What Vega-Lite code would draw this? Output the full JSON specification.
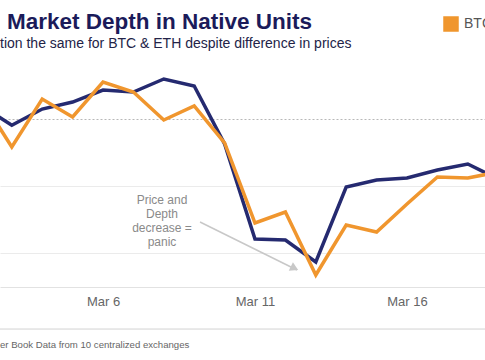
{
  "$schema": "https://vega.github.io/schema/vega-lite/v6.json",
  "width": 485,
  "height": 235,
  "autosize": {"type": "none"},
  "padding": {"left": 0, "top": 52, "right": 0, "bottom": 73},
  "background": "white",
  "config": {
    "view": {"stroke": null},
    "font": "Liberation Sans"
  },
  "title": {
    "text": "Market Depth in Native Units",
    "anchor": "start",
    "frame": "group",
    "font": "Liberation Sans",
    "fontSize": 22.5,
    "fontWeight": "bold",
    "color": "#1b1b5a",
    "offset": 4,
    "dx": 7,
    "dy": 21
  },
  "datasets": {
    "series": [
      {"date": "2020-03-02T00:00:00", "asset": "ETH", "depth": 32.0},
      {"date": "2020-03-03T00:00:00", "asset": "ETH", "depth": 29.1},
      {"date": "2020-03-04T00:00:00", "asset": "ETH", "depth": 31.5},
      {"date": "2020-03-05T00:00:00", "asset": "ETH", "depth": 32.55},
      {"date": "2020-03-06T00:00:00", "asset": "ETH", "depth": 34.34},
      {"date": "2020-03-07T00:00:00", "asset": "ETH", "depth": 34.04},
      {"date": "2020-03-08T00:00:00", "asset": "ETH", "depth": 35.98},
      {"date": "2020-03-09T00:00:00", "asset": "ETH", "depth": 34.94},
      {"date": "2020-03-10T00:00:00", "asset": "ETH", "depth": 26.3},
      {"date": "2020-03-11T00:00:00", "asset": "ETH", "depth": 12.15},
      {"date": "2020-03-12T00:00:00", "asset": "ETH", "depth": 12.0},
      {"date": "2020-03-13T00:00:00", "asset": "ETH", "depth": 8.72},
      {"date": "2020-03-14T00:00:00", "asset": "ETH", "depth": 19.89},
      {"date": "2020-03-15T00:00:00", "asset": "ETH", "depth": 20.94},
      {"date": "2020-03-16T00:00:00", "asset": "ETH", "depth": 21.23},
      {"date": "2020-03-17T00:00:00", "asset": "ETH", "depth": 22.43},
      {"date": "2020-03-18T00:00:00", "asset": "ETH", "depth": 23.32},
      {"date": "2020-03-19T00:00:00", "asset": "ETH", "depth": 21.09},
      {"date": "2020-03-02T00:00:00", "asset": "BTC", "depth": 33.0},
      {"date": "2020-03-03T00:00:00", "asset": "BTC", "depth": 25.85},
      {"date": "2020-03-04T00:00:00", "asset": "BTC", "depth": 33.0},
      {"date": "2020-03-05T00:00:00", "asset": "BTC", "depth": 30.32},
      {"date": "2020-03-06T00:00:00", "asset": "BTC", "depth": 35.53},
      {"date": "2020-03-07T00:00:00", "asset": "BTC", "depth": 34.04},
      {"date": "2020-03-08T00:00:00", "asset": "BTC", "depth": 29.87},
      {"date": "2020-03-09T00:00:00", "asset": "BTC", "depth": 31.96},
      {"date": "2020-03-10T00:00:00", "asset": "BTC", "depth": 26.45},
      {"date": "2020-03-11T00:00:00", "asset": "BTC", "depth": 14.53},
      {"date": "2020-03-12T00:00:00", "asset": "BTC", "depth": 16.17},
      {"date": "2020-03-13T00:00:00", "asset": "BTC", "depth": 6.79},
      {"date": "2020-03-14T00:00:00", "asset": "BTC", "depth": 14.23},
      {"date": "2020-03-15T00:00:00", "asset": "BTC", "depth": 13.19},
      {"date": "2020-03-16T00:00:00", "asset": "BTC", "depth": 17.36},
      {"date": "2020-03-17T00:00:00", "asset": "BTC", "depth": 21.38},
      {"date": "2020-03-18T00:00:00", "asset": "BTC", "depth": 21.23},
      {"date": "2020-03-19T00:00:00", "asset": "BTC", "depth": 22.13}
    ],
    "note": [
      {"date": "2020-03-07T22:35:00", "depth": 17.96, "label": "Price and\nDepth\ndecrease =\npanic"}
    ],
    "arrow": [
      {"date": "2020-03-09T04:35:00", "depth": 14.68, "date2": "2020-03-12T09:10:00", "depth2": 7.53}
    ],
    "arrowhead": [
      {"date": "2020-03-12T07:12:00", "depth": 7.8}
    ],
    "divider": [
      {"depth": -1.26}
    ],
    "texts": [
      {"date": "2020-03-02T14:41:00", "depth": -3.64, "label": "er Book Data from 10 centralized exchanges", "kind": "footer"}
    ],
    "subtitle": [
      {"date": "2020-03-02T14:41:00", "depth": 41.2, "label": "tion the same for BTC & ETH despite difference in prices"}
    ]
  },
  "layer": [
    {
      "data": {"name": "divider"},
      "mark": {"type": "rule", "color": "#d2d2d2", "strokeWidth": 1},
      "encoding": {
        "y": {"field": "depth", "type": "quantitative", "scale": {"domain": [5, 40], "nice": false, "zero": false}, "axis": {"labels": false, "ticks": false, "domain": false, "title": null, "values": [10, 20, 30], "grid": true, "gridColor": {"condition": {"test": "datum.value === 30", "value": "#b8b8b8"}, "value": "#ebebeb"}, "gridDash": {"condition": {"test": "datum.value === 30", "value": [2, 2]}, "value": []}, "gridWidth": 1}}
      }
    },
    {
      "data": {"name": "texts"},
      "mark": {"type": "text", "align": "left", "baseline": "middle", "fontSize": 9.6, "color": "#666666", "font": "Liberation Sans"},
      "encoding": {
        "x": {"field": "date", "type": "temporal"},
        "y": {"field": "depth", "type": "quantitative"},
        "text": {"field": "label"}
      }
    },
    {
      "data": {"name": "subtitle"},
      "mark": {"type": "text", "align": "left", "baseline": "middle", "fontSize": 14, "color": "#232347", "font": "Liberation Sans"},
      "encoding": {
        "x": {"field": "date", "type": "temporal"},
        "y": {"field": "depth", "type": "quantitative"},
        "text": {"field": "label"}
      }
    },
    {
      "data": {"name": "series"},
      "mark": {"type": "line", "strokeWidth": 3.5, "clip": true},
      "encoding": {
        "x": {
          "field": "date", "type": "temporal",
          "scale": {"domain": [{"year": 2020, "month": 3, "date": 2, "hours": 14, "minutes": 41}, {"year": 2020, "month": 3, "date": 18, "hours": 13, "minutes": 35}], "nice": false},
          "axis": {
            "title": null,
            "values": [{"year": 2020, "month": 3, "date": 1}, {"year": 2020, "month": 3, "date": 6}, {"year": 2020, "month": 3, "date": 11}, {"year": 2020, "month": 3, "date": 16}],
            "format": "%b %-d",
            "labelFontSize": 13,
            "labelColor": "#666666",
            "labelFont": "Liberation Sans",
            "labelPadding": 8,
            "ticks": false,
            "grid": false,
            "domain": true,
            "domainColor": "#e2e2e2",
            "domainWidth": 1
          }
        },
        "y": {"field": "depth", "type": "quantitative"},
        "color": {
          "field": "asset", "type": "nominal",
          "scale": {"domain": ["BTC", "ETH"], "range": ["#f0962e", "#252a70"]},
          "legend": {
            "title": null,
            "orient": "none",
            "legendX": 443,
            "legendY": -36,
            "direction": "horizontal",
            "symbolType": "square",
            "symbolSize": 196,
            "padding": 0,
            "labelFontSize": 14,
            "labelColor": "#555555",
            "labelFont": "Liberation Sans",
            "labelOffset": 5,
            "columnPadding": 20,
            "encode": {"symbols": {"update": {"fill": {"scale": "color", "field": "value"}, "stroke": {"value": "transparent"}, "fillOpacity": {"value": 1}}}}
          }
        },
        "order": {"field": "date", "type": "temporal"}
      }
    },
    {
      "data": {"name": "arrow"},
      "mark": {"type": "rule", "color": "#c8c8c8", "strokeWidth": 1.5},
      "encoding": {
        "x": {"field": "date", "type": "temporal"},
        "y": {"field": "depth", "type": "quantitative"},
        "x2": {"field": "date2"},
        "y2": {"field": "depth2"}
      }
    },
    {
      "data": {"name": "arrowhead"},
      "mark": {"type": "point", "shape": "triangle-right", "filled": true, "color": "#c8c8c8", "size": 90, "angle": 26, "opacity": 1},
      "encoding": {
        "x": {"field": "date", "type": "temporal"},
        "y": {"field": "depth", "type": "quantitative"}
      }
    },
    {
      "data": {"name": "note"},
      "mark": {"type": "text", "align": "center", "baseline": "middle", "fontSize": 12, "lineHeight": 14, "lineBreak": "\n", "color": "#8a8a8a", "font": "Liberation Sans"},
      "encoding": {
        "x": {"field": "date", "type": "temporal"},
        "y": {"field": "depth", "type": "quantitative"},
        "text": {"field": "label"}
      }
    }
  ]
}
